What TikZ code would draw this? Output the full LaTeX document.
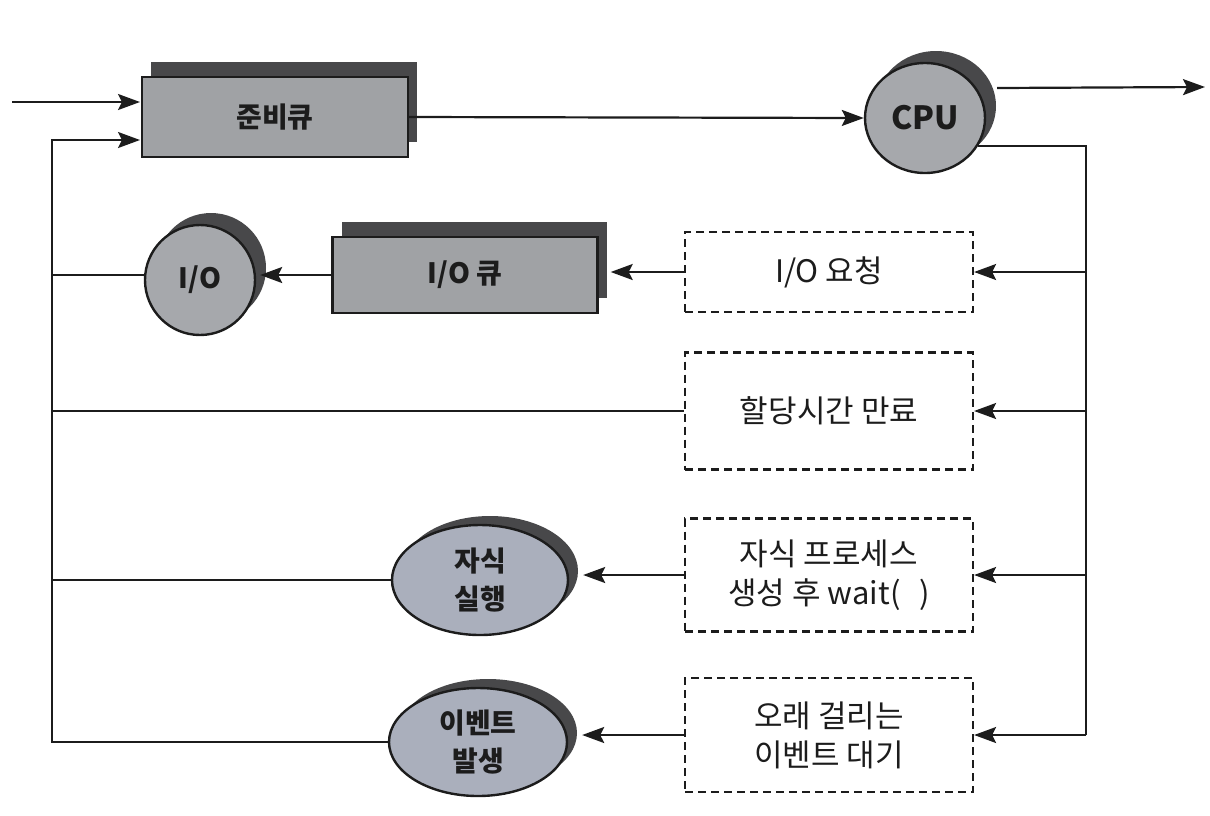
\documentclass[tikz,border=0pt]{standalone}
\usepackage{fontspec}
\setmainfont{Noto Sans CJK KR}
\usetikzlibrary{arrows.meta,shadows,shapes.geometric}
\definecolor{boxfill}{RGB}{160,162,165}
\definecolor{circfill}{RGB}{166,168,172}
\definecolor{ellfill}{RGB}{170,175,188}
\definecolor{shadowc}{RGB}{72,72,74}
\definecolor{inkc}{RGB}{28,28,28}
\begin{document}
\begin{tikzpicture}[x=1pt,y=-1pt,line width=2.2pt,draw=inkc,
  arr/.style={-{Stealth[length=22pt,width=16pt,inset=4pt]}},
  boldlabel/.style={font=\bfseries\fontsize{28}{38}\selectfont,text=inkc,align=center},
  queuebox/.style={boldlabel,draw=inkc,line width=2.4pt,fill=boxfill,inner sep=0pt,
     drop shadow={fill=shadowc,opacity=1,shadow xshift=9pt,shadow yshift=15pt}},
  server/.style={boldlabel,ellipse,draw=inkc,line width=2.4pt,fill=circfill,inner sep=0pt,
     drop shadow={fill=shadowc,opacity=1,shadow xshift=11pt,shadow yshift=12pt}},
  eventell/.style={boldlabel,ellipse,draw=inkc,line width=2.4pt,fill=ellfill,inner sep=0pt,
     drop shadow={fill=shadowc,opacity=1,shadow xshift=10pt,shadow yshift=9pt}},
  reason/.style={draw=inkc,line width=2.2pt,dash pattern=on 8pt off 5pt,
     minimum width=288pt,font=\fontsize{31}{39}\selectfont,text=inkc,align=center,inner sep=0pt}
]
\useasboundingbox (0,0) rectangle (1210,815);

% nodes
\node[queuebox,minimum width=266pt,minimum height=80pt] (rq) at (275,117) {준비큐};
\node[server,minimum width=120pt,minimum height=110pt,font=\bfseries\fontsize{32}{38}\selectfont] (cpu) at (925,118) {CPU};
\node[queuebox,minimum width=265pt,minimum height=76pt] (ioq) at (465,275) {I/O 큐};
\node[server,minimum width=110pt,minimum height=110pt] (io) at (200,280) {I/O};
\node[reason,minimum height=80pt] (d1) at (829,272) {I/O 요청};
\node[reason,minimum height=117pt] (d2) at (829,411) {할당시간 만료};
\node[reason,minimum height=113pt] (d3) at (829,575) {자식 프로세스\\생성 후 wait(\hspace{0.6em})};
\node[reason,minimum height=114pt] (d4) at (829,735) {오래 걸리는\\이벤트 대기};
\node[eventell,minimum width=176pt,minimum height=110pt] (ch) at (480,580) {자식\\실행};
\node[eventell,minimum width=178pt,minimum height=108pt] (ev) at (478,742) {이벤트\\발생};

% helper coordinates
\coordinate (in) at (12,102);
\coordinate (rqin) at (140,102);
\coordinate (cpuout) at (997,88);
\coordinate (out) at (1205,87);
\coordinate (busx) at (1086,0);
\coordinate (lx) at (52,0);
\coordinate (fbin) at (140,140);

% connectors
\draw[arr] (in) -- (rqin);
\draw[arr] (rq.east) -- (cpu.west);
\draw[arr] (cpuout) -- (out);
\draw (cpu.-28) -| (busx |- d4.east);
\draw[arr] (busx |- d1.east) -- (d1.east);
\draw[arr] (busx |- d2.east) -- (d2.east);
\draw[arr] (busx |- d3.east) -- (d3.east);
\draw[arr] (busx |- d4.east) -- (d4.east);

\draw[arr] (d1.west) -- ([xshift=12pt]ioq.east |- d1.west);
\draw[arr] (ioq.west) -- ([xshift=4pt]io.east |- ioq.west);
\draw (io.west |- ioq.west) -- (lx |- ioq.west);
\draw (d2.west) -- (lx |- d2.west);
\draw[arr] (d3.west) -- ([xshift=14pt]ch.east |- d3.west);
\draw (ch.west) -- (lx |- ch.west);
\draw[arr] (d4.west) -- ([xshift=14pt]ev.east |- d4.west);
\draw[arr] (ev.west) -- (lx |- ev.west) -- (lx |- fbin) -- (fbin);
\end{tikzpicture}
\end{document}
